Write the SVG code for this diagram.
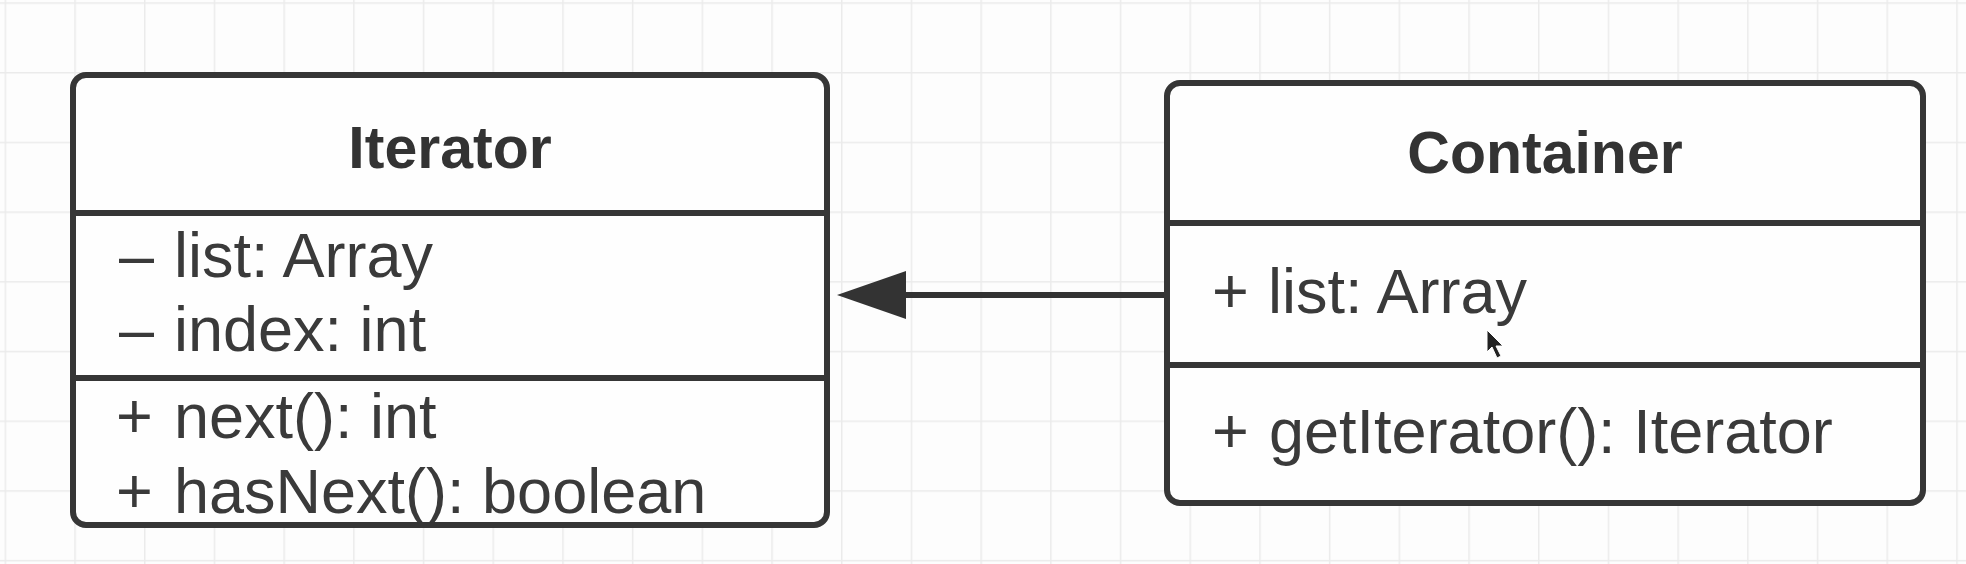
<svg xmlns="http://www.w3.org/2000/svg" width="1966" height="564" viewBox="0 0 1966 564">
  <defs>
    <pattern id="grid" patternUnits="userSpaceOnUse" x="4.6" y="2.3" width="69.7" height="69.7">
      <path d="M0 0 H69.7 M0 0 V69.7" fill="none" stroke="#ebebeb" stroke-width="3"/>
    </pattern>
    <marker id="arrow" markerUnits="userSpaceOnUse" markerWidth="70" markerHeight="50" refX="68" refY="24" orient="auto">
      <path d="M0 0 L68 24 L0 48 Z" fill="#333"/>
    </marker>
    <style>
      .box { fill: none; stroke: #363636; stroke-width: 6; }
      .bg { fill: #fefefe; }
      .div { stroke: #363636; stroke-width: 6; }
      .title { font-family: "Liberation Sans", Arial, sans-serif; font-weight: bold; font-size: 59px; fill: #333; text-anchor: middle; }
      .member { font-family: "Liberation Sans", Arial, sans-serif; font-size: 63px; fill: #3a3a3a; }
      .edge { stroke: #333; stroke-width: 6; fill: none; }
    </style>
  </defs>
  <rect width="1966" height="564" fill="#fdfdfd"/>
  <rect width="1966" height="564" fill="url(#grid)"/>

  <g id="connectors">
    <path class="edge" d="M1166 295 H906"/>
    <path d="M906 271 L837 295 L906 319 Z" fill="#333"/>
  </g>

  <g id="iterator">
    <rect class="bg" x="73" y="75" width="754" height="450" rx="13"/>
    <text class="title" x="450" y="168">Iterator</text>
    <text class="member" y="277"><tspan x="119">–</tspan><tspan x="174">list: Array</tspan></text>
    <text class="member" y="351"><tspan x="119">–</tspan><tspan x="174">index: int</tspan></text>
    <text class="member" y="438"><tspan x="116">+</tspan><tspan x="174">next(): int</tspan></text>
    <text class="member" y="513"><tspan x="116">+</tspan><tspan x="174">hasNext(): boolean</tspan></text>
    <line class="div" x1="73" y1="213" x2="827" y2="213"/>
    <line class="div" x1="73" y1="378" x2="827" y2="378"/>
    <rect class="box" x="73" y="75" width="754" height="450" rx="13"/>
  </g>

  <g id="container">
    <rect class="bg" x="1167" y="83" width="756" height="420" rx="13"/>
    <text class="title" x="1545" y="173">Container</text>
    <text class="member" y="313"><tspan x="1212">+</tspan><tspan x="1268">list: Array</tspan></text>
    <text class="member" y="453"><tspan x="1212">+</tspan><tspan x="1269">getIterator(): Iterator</tspan></text>
    <line class="div" x1="1167" y1="223" x2="1923" y2="223"/>
    <line class="div" x1="1167" y1="365" x2="1923" y2="365"/>
    <rect class="box" x="1167" y="83" width="756" height="420" rx="13"/>
  </g>

  <g id="cursor">
    <path d="M1487 330 L1487 352 L1492 347 L1497 358 L1501 356 L1496 346 L1503 346 Z" fill="#222" stroke="#fff" stroke-width="1"/>
  </g>
</svg>
